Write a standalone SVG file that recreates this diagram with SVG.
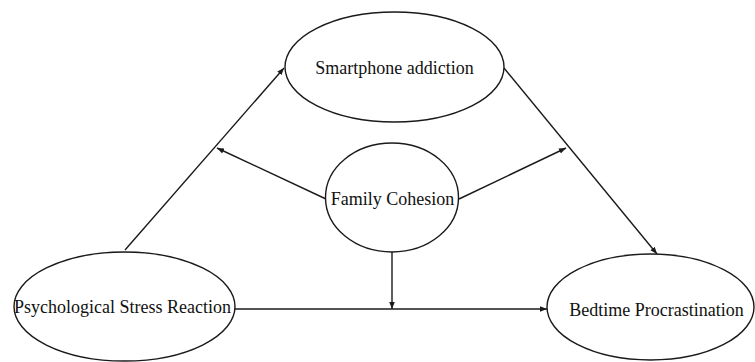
<svg xmlns="http://www.w3.org/2000/svg" width="755" height="362" viewBox="0 0 755 362">
<style>
.node ellipse{fill:#fff;stroke:#1a1a1a;stroke-width:1.4}
.node text{font-family:"Liberation Serif","Times New Roman",serif;font-size:18px;fill:#111;text-anchor:middle}
.edges line{stroke:#1a1a1a;stroke-width:1.4;fill:none;marker-end:url(#arr)}
</style>
<defs>
<marker id="arr" viewBox="0 0 10 10" refX="10" refY="5" markerWidth="7" markerHeight="7" markerUnits="userSpaceOnUse" orient="auto">
<path d="M0,1 L10,5 L0,9 Z" fill="#1a1a1a"/>
</marker>
</defs>
<rect width="755" height="362" fill="#fff"/>
<g class="edges">
<line x1="125" y1="250" x2="284" y2="68"/>
<line x1="504" y1="68" x2="657" y2="254"/>
<line x1="326" y1="199" x2="217" y2="148"/>
<line x1="459" y1="199" x2="566" y2="148"/>
<line x1="392" y1="252" x2="392" y2="309"/>
<line x1="235" y1="309" x2="547" y2="309"/>
</g>
<g id="smartphone" class="node">
<ellipse cx="394.5" cy="67" rx="109.5" ry="55"/>
<text x="394.5" y="74">Smartphone addiction</text>
</g>
<g id="family" class="node">
<ellipse cx="392" cy="197.5" rx="66.5" ry="54.5"/>
<text x="392.5" y="205">Family Cohesion</text>
</g>
<g id="stress" class="node">
<ellipse cx="124.5" cy="306.5" rx="110.5" ry="54.5"/>
<text x="122.5" y="313">Psychological Stress Reaction</text>
</g>
<g id="bedtime" class="node">
<ellipse cx="650.5" cy="307" rx="103.5" ry="53"/>
<text x="656.5" y="316">Bedtime Procrastination</text>
</g>
</svg>
